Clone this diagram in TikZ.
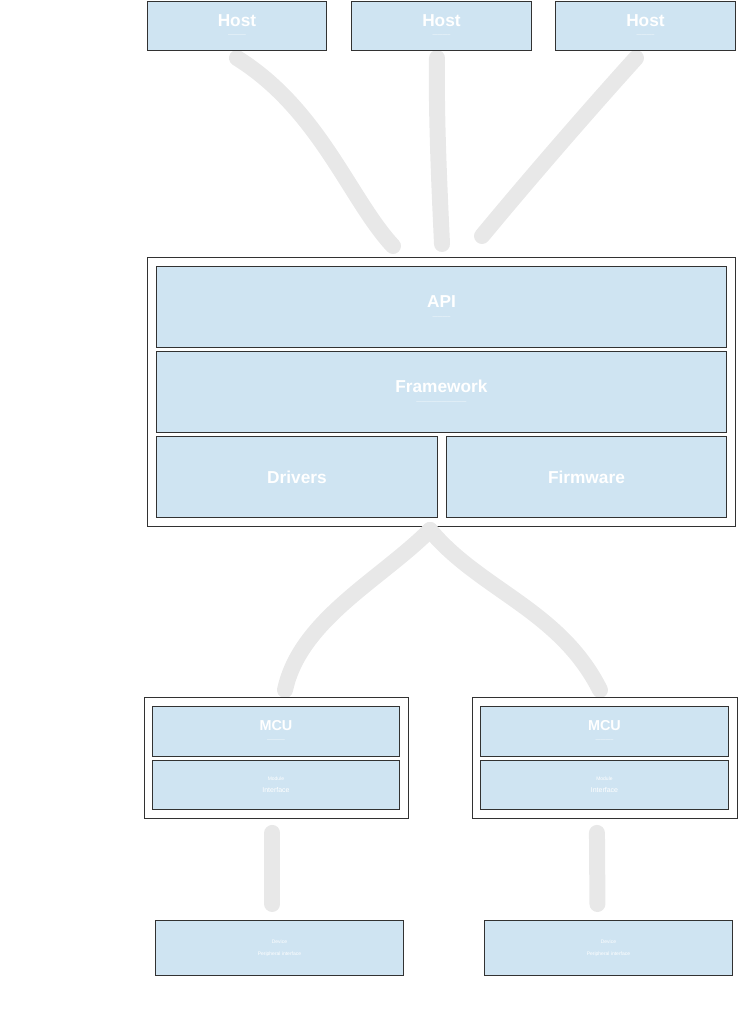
\documentclass[tikz,border=0pt]{standalone}
\usepackage{fontspec}
\setmainfont{Liberation Sans}
\definecolor{boxblue}{RGB}{207,228,242}
\definecolor{linkgray}{RGB}{232,232,232}
\definecolor{edgegray}{RGB}{50,50,50}
\begin{document}
\begin{tikzpicture}[x=1pt,y=-1pt]
\useasboundingbox (0,0) rectangle (741,1012);
\tikzset{
  box/.style={draw=edgegray, fill=boxblue, line width=0.9pt, inner sep=0pt, anchor=north west, align=center, text=white},
  frame/.style={draw=edgegray, fill=white, line width=0.9pt, inner sep=0pt, anchor=north west},
  link/.style={draw=linkgray, line width=16pt, line cap=round},
  side/.style={text=white, font=\bfseries\LARGE, anchor=center}
}
% ---------- links (under the boxes)
\coordinate (top1) at (237,58);
\coordinate (top2) at (437,58);
\coordinate (top3) at (636,58);
\draw[link] (top1) .. controls (320,110) and (350,200) .. (393,246);
\draw[link] (top2) .. controls (436,120) and (440,200) .. (442,244);
\draw[link] (top3) .. controls (580,120) and (520,190) .. (482,236);
% ---------- top boxes
\node[box, minimum width=179pt, minimum height=49pt] (h1) at (147,1) {\textbf{\LARGE Host}\\[-2pt]{\tiny -----------}};
\node[box, minimum width=180pt, minimum height=49pt] (h2) at (351,1) {\textbf{\LARGE Host}\\[-2pt]{\tiny -----------}};
\node[box, minimum width=180pt, minimum height=49pt] (h3) at (555,1) {\textbf{\LARGE Host}\\[-2pt]{\tiny -----------}};
% ---------- core stack
\node[frame, minimum width=588pt, minimum height=269pt] (core) at (147,257) {};
\node[box, minimum width=570pt, minimum height=81pt] (api) at (156,266) {\textbf{\LARGE API}\\[-1pt]{\tiny -----------}};
\node[box, minimum width=570pt, minimum height=81pt] (fw) at (156,351) {\textbf{\LARGE Framework}\\[-1pt]{\tiny ------------------------------}};
\node[box, minimum width=281pt, minimum height=81pt] (drv) at (156,436) {\textbf{\LARGE Drivers}};
\node[box, minimum width=280pt, minimum height=81pt] (frm) at (446,436) {\textbf{\LARGE Firmware}};
% ---------- links core -> mcus
\coordinate (coreS) at (430,530);
\draw[link] (coreS) .. controls (380,580) and (300,620) .. (285,690);
\draw[link] (coreS) .. controls (480,590) and (560,610) .. (600,690);
% ---------- mcu containers
\node[frame, minimum width=264pt, minimum height=121pt] (c1) at (144,697) {};
\node[box, minimum width=247pt, minimum height=50pt] (m1) at (152,706) {\textbf{\Large MCU}\\[-1pt]{\tiny -----------}};
\node[box, minimum width=247pt, minimum height=49pt] (s1) at (152,760) {{\tiny Module}\\{\scriptsize Interface}};
\node[frame, minimum width=265pt, minimum height=121pt] (c2) at (472,697) {};
\node[box, minimum width=248pt, minimum height=50pt] (m2) at (480,706) {\textbf{\Large MCU}\\[-1pt]{\tiny -----------}};
\node[box, minimum width=248pt, minimum height=49pt] (s2) at (480,760) {{\tiny Module}\\{\scriptsize Interface}};
% ---------- devices
\node[box, minimum width=248pt, minimum height=55pt] (d1) at (155,920) {{\tiny Device}\\{\tiny Peripheral interface}};
\node[box, minimum width=248pt, minimum height=55pt] (d2) at (484,920) {{\tiny Device}\\{\tiny Peripheral interface}};
\draw[link] ([xshift=-4pt,yshift=-14pt]c1.south) -- ([xshift=-7pt,yshift=16pt]d1.north);
\draw[link] ([xshift=-8pt,yshift=-14pt]c2.south) -- ([xshift=-11pt,yshift=16pt]d2.north);
% ---------- side labels
\node[side] (l1) at (35,45) {PCs};
\node[side] (l2) at (40,386) {HAL};
\node[side] (l3) at (38,752) {MCU};
\node[side] (l4) at (55,938) {Devices};
\end{tikzpicture}
\end{document}
